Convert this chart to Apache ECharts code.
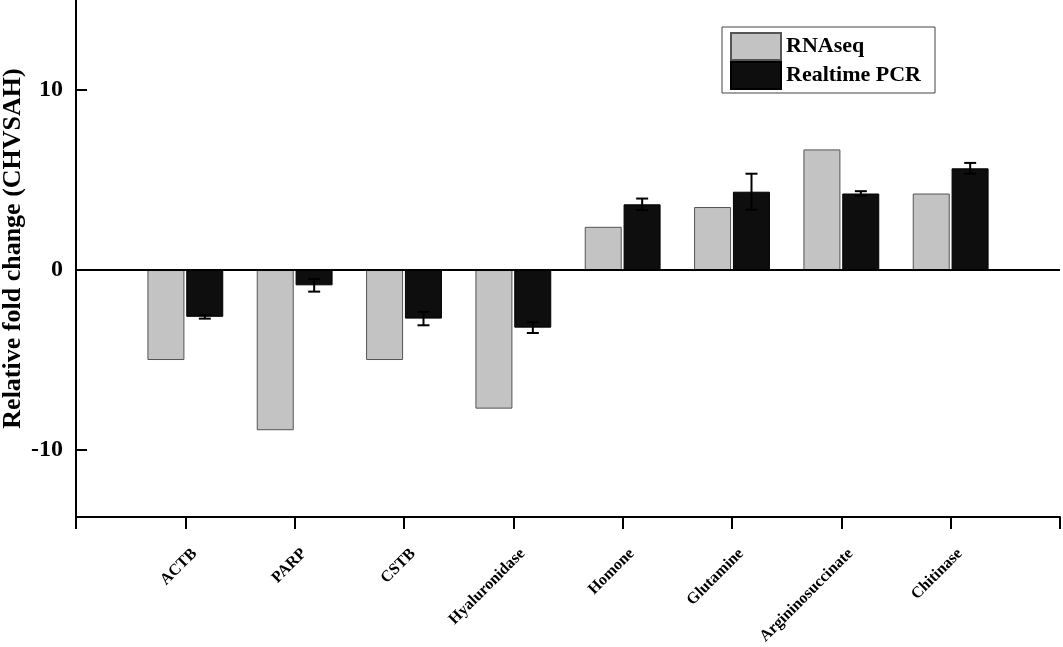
<!DOCTYPE html>
<html>
<head>
<meta charset="utf-8">
<script src="https://cdn.jsdelivr.net/npm/echarts@6/dist/echarts.min.js"></script>
<style>
html, body { margin: 0; padding: 0; background: #fff; }
#main { width: 1063px; height: 647px; }
</style>
</head>
<body>
<div id="main"></div>
<script>
var categories = ['ACTB', 'PARP', 'CSTB', 'Hyaluronidase', 'Homone', 'Glutamine', 'Argininosuccinate', 'Chitinase'];
var rnaseq = [-5.0, -8.9, -5.0, -7.7, 2.4, 3.5, 6.7, 4.25];
var pcr = [-2.6, -0.85, -2.7, -3.2, 3.65, 4.35, 4.25, 5.65];
var pcrErr = [0.1, 0.35, 0.37, 0.3, 0.32, 1.0, 0.13, 0.3];
var yTicks = [-10, 0, 10];

var font = "'Liberation Serif', 'Times New Roman', serif";

// empty slot at each end so the axis runs 0..9 like the original
var axisCats = [''].concat(categories, ['']);
function pad(arr) { return [null].concat(arr, [null]); }

var errData = pcr.map(function (v, i) {
	return [i + 1, v - pcrErr[i], v + pcrErr[i]];
});

var chart = echarts.init(document.getElementById('main'));

var option = {
	backgroundColor: '#fff',
	animation: false,
	grid: {
		left: 76,
		right: 3,
		top: 0,
		bottom: 130,
		outerBoundsMode: 'none'
	},
	legend: {
		orient: 'vertical',
		left: 722,
		top: 27,
		itemWidth: 50,
		itemHeight: 27,
		itemGap: 0,
		padding: [5, 14, 3, 8],
		borderColor: '#444',
		borderWidth: 1,
		icon: 'rect',
		textStyle: {
			fontFamily: font,
			fontWeight: 'bold',
			fontSize: 22,
			color: '#000'
		},
		data: ['RNAseq', 'Realtime PCR']
	},
	xAxis: {
		type: 'category',
		data: axisCats,
		boundaryGap: false,
		axisLine: { onZero: false, lineStyle: { color: '#000', width: 2 } },
		axisTick: { interval: 0, length: 12, lineStyle: { color: '#000', width: 2 } },
		axisLabel: {
			interval: 0,
			rotate: 45,
			margin: 25,
			verticalAlign: 'top',
			padding: [5, 0, 0, 0],
			color: '#000',
			fontFamily: font,
			fontWeight: 'bold',
			fontSize: 16
		},
		splitLine: { show: false }
	},
	yAxis: {
		type: 'value',
		min: -13.72,
		max: 15,
		name: 'Relative fold change (CHVSAH)',
		nameLocation: 'middle',
		nameGap: 50,
		nameMoveOverlap: false,
		nameTextStyle: {
			fontFamily: font,
			fontWeight: 'bold',
			fontSize: 26,
			color: '#000',
			padding: [0, 0, 0, 20]
		},
		axisLine: { show: true, lineStyle: { color: '#000', width: 2 } },
		axisTick: {
			show: true,
			inside: true,
			length: 11,
			customValues: yTicks,
			lineStyle: { color: '#000', width: 2 }
		},
		axisLabel: {
			customValues: yTicks,
			margin: 13,
			color: '#000',
			fontFamily: font,
			fontWeight: 'bold',
			fontSize: 24
		},
		splitLine: { show: false }
	},
	series: [{
			name: 'RNAseq',
			type: 'bar',
			data: pad(rnaseq),
			barWidth: 37,
			barGap: '5%',
			itemStyle: { color: '#c3c3c3', borderColor: '#555', borderWidth: 1 },
			markLine: {
				silent: true,
				symbol: 'none',
				label: { show: false },
				lineStyle: { color: '#000', width: 2, type: 'solid' },
				data: [{ yAxis: 0 }]
			}
		},
		{
			name: 'Realtime PCR',
			type: 'bar',
			data: pad(pcr),
			barWidth: 37,
			itemStyle: { color: '#0e0e0e', borderColor: '#000', borderWidth: 1 }
		},
		{
			name: 'err',
			type: 'custom',
			data: errData,
			z: 5,
			renderItem: function (params, api) {
				var lo = api.coord([api.value(0), api.value(1)]);
				var hi = api.coord([api.value(0), api.value(2)]);
				var x = lo[0] + 19.5;
				var half = 6;
				var st = { stroke: '#000', lineWidth: 2 };
				return {
					type: 'group',
					children: [
						{ type: 'line', shape: { x1: x, y1: lo[1], x2: x, y2: hi[1] }, style: st },
						{ type: 'line', shape: { x1: x - half, y1: lo[1], x2: x + half, y2: lo[1] }, style: st },
						{ type: 'line', shape: { x1: x - half, y1: hi[1], x2: x + half, y2: hi[1] }, style: st }
					]
				};
			}
		}
	]
};

chart.setOption(option);
</script>
</body>
</html>
